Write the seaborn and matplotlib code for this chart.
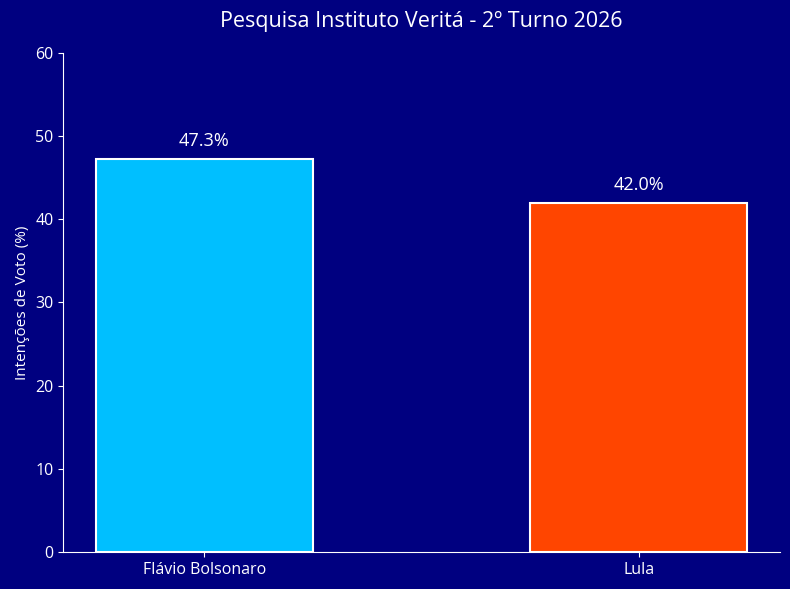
import matplotlib
matplotlib.use('Agg')
import matplotlib.pyplot as plt
import seaborn as sns
import pandas as pd

candidatos = ['Flávio Bolsonaro', 'Lula']
intencoes = [47.3, 42.0]
cores = ['#00BFFF', '#FF4500']

bg = '#000080'
plt.rcParams['font.family'] = ['Open Sans', 'DejaVu Sans']

df = pd.DataFrame({'Candidato': candidatos, 'Votos': intencoes})

fig, ax = plt.subplots(1, 1, figsize=(7.9, 5.89), dpi=100)
fig.patch.set_facecolor(bg)
ax.set_facecolor(bg)

sns.barplot(x='Candidato', y='Votos', hue='Candidato', data=df, palette=cores,
            saturation=1, width=0.5, edgecolor='white', linewidth=1.5,
            legend=False, ax=ax)

for i, v in enumerate(intencoes):
    ax.text(i, v + 1.0, '{:.1f}%'.format(v), ha='center', va='bottom',
            color='white', fontsize=13)

ax.set_xlim(-0.325, 1.325)
ax.set_ylim(0, 60)
ax.set_xlabel('')
ax.set_ylabel('Intenções de Voto (%)', color='white', fontsize=11)
ax.set_title('Pesquisa Instituto Veritá - 2º Turno 2026', color='white', fontsize=15.5, pad=19)
ax.tick_params(colors='white', labelsize=11.5)
for s in ['top', 'right']:
    ax.spines[s].set_visible(False)
for s in ['left', 'bottom']:
    ax.spines[s].set_color('white')

fig.subplots_adjust(left=0.08, right=0.987, top=0.91, bottom=0.063)
plt.savefig('out.png', facecolor=bg)
